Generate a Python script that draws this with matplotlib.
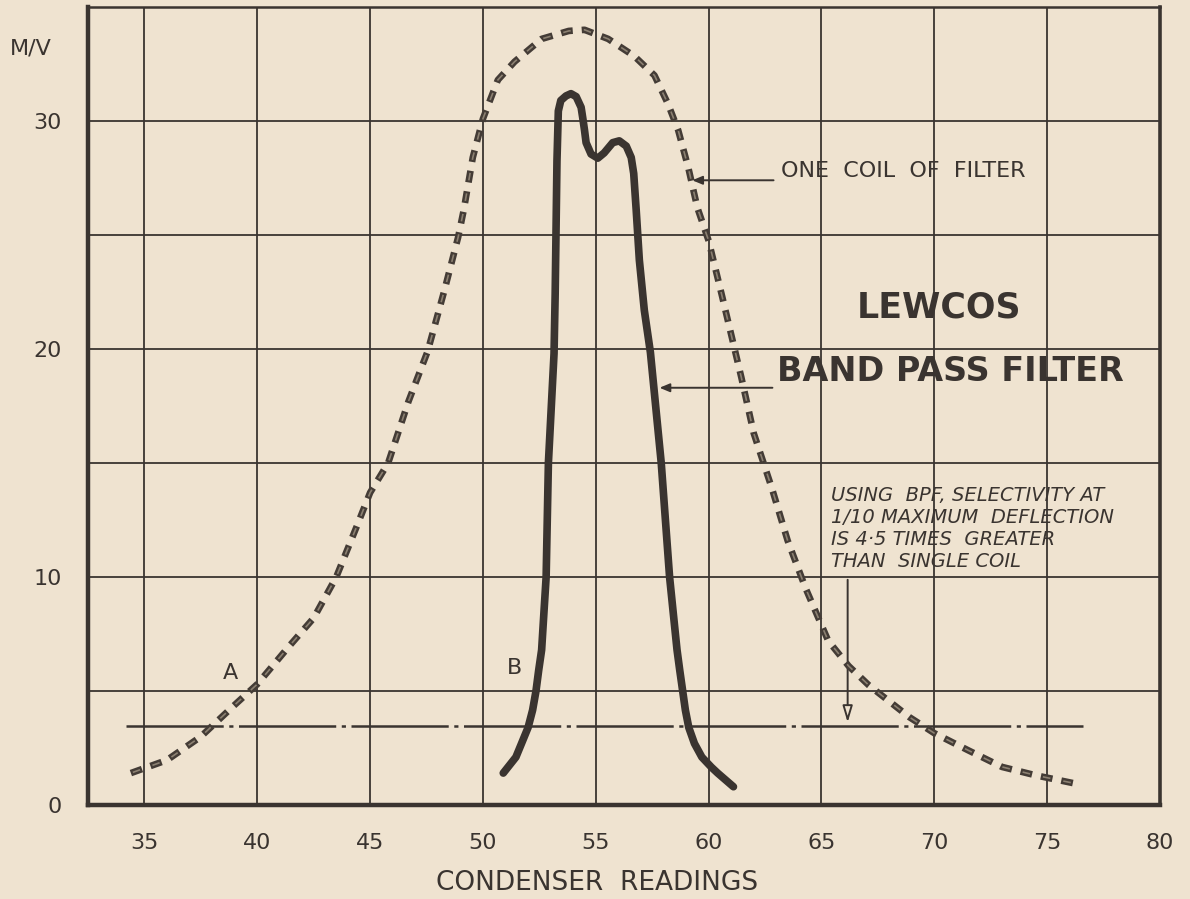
import matplotlib
matplotlib.use("Agg")
import matplotlib.pyplot as plt

plt.rcParams['font.family'] = ['DejaVu Sans']
plt.rcParams['lines.scale_dashes'] = False

# ---- data ----
coil_x = [34.4, 36.0, 37.5, 38.9, 40.0, 41.4, 42.5, 43.5, 44.4, 45.0, 45.8, 46.7,
          47.55, 48.3, 48.9, 49.15, 49.55, 50.0, 50.66, 51.4, 52.6, 53.8, 54.5,
          55.55, 56.7, 57.6, 58.2, 58.65, 59.1, 59.5, 60.0, 60.6, 61.45, 62.0,
          62.8, 63.5, 64.3, 65.3, 66.2, 67.1, 68.9, 70.0, 71.5, 73.0, 74.5, 76.2]
coil_y = [1.4, 1.97, 3.0, 4.3, 5.3, 6.95, 8.2, 10.0, 12.2, 13.7, 15.0, 17.7,
          19.9, 22.6, 24.9, 26.1, 28.4, 30.1, 31.8, 32.6, 33.6, 33.95, 34.0,
          33.6, 32.85, 32.0, 30.75, 29.6, 27.95, 26.2, 24.75, 22.3, 18.75, 16.3,
          13.9, 11.6, 9.5, 7.2, 6.1, 5.25, 3.85, 3.15, 2.4, 1.67, 1.3, 0.95]

bpf_x = [50.9, 51.46, 51.71, 52.0, 52.2, 52.35, 52.47, 52.6, 52.69, 52.8, 52.9,
         53.15, 53.2, 53.24, 53.28, 53.34, 53.45, 53.68, 53.9, 54.13, 54.35,
         54.42, 54.5, 54.57, 54.79, 55.09, 55.37, 55.75, 56.04, 56.35, 56.57,
         56.68, 56.79, 56.93, 57.15, 57.42, 57.9, 58.27, 58.45, 58.6, 58.72,
         58.85, 58.97, 59.12, 59.37, 59.7, 60.12, 60.4, 61.1]
bpf_y = [1.4, 2.1, 2.7, 3.4, 4.16, 5.0, 5.91, 6.8, 8.25, 10.0, 15.0,
         19.8, 22.4, 25.3, 28.25, 30.44, 30.9, 31.1, 31.2, 31.07, 30.6,
         30.15, 29.6, 29.05, 28.55, 28.37, 28.6, 29.05, 29.13, 28.9, 28.4,
         27.7, 26.1, 23.9, 21.7, 19.85, 15.0, 10.0, 8.25, 6.8, 5.91,
         5.0, 4.16, 3.4, 2.7, 2.1, 1.66, 1.4, 0.8]

level_x = [34.2, 76.6]
level_y = [3.47, 3.47]

x_ticks = [35, 40, 45, 50, 55, 60, 65, 70, 75, 80]
y_ticks = [0, 5, 10, 15, 20, 25, 30, 35]
y_tick_labels = ['0', '', '10', '', '20', '', '30', '']

bg = '#efe3d0'
ink = '#3a3430'

fig = plt.figure(figsize=(11.9, 8.99), dpi=100, facecolor=bg)
ax = fig.add_axes([88/1190, 1-805/899, (1160-88)/1190, (805-7)/899])
ax.set_facecolor(bg)
ax.set_xlim(32.5, 80)
ax.set_ylim(0, 35)

ax.set_xticks(x_ticks)
ax.set_xticklabels([str(v) for v in x_ticks])
ax.set_yticks(y_ticks)
ax.set_yticklabels(y_tick_labels)
ax.tick_params(axis='both', length=0, labelsize=16, labelcolor=ink)
ax.tick_params(axis='x', pad=20)
ax.tick_params(axis='y', pad=19)
ax.grid(True, color=ink, lw=1.3)
ax.set_axisbelow(True)
for side, lw in [('left', 3.2), ('bottom', 3.2), ('top', 1.8), ('right', 2.6)]:
    ax.spines[side].set_linewidth(lw)
    ax.spines[side].set_color(ink)

# 1/10 level line (dash-dot)
ax.plot(level_x, level_y, color=ink, lw=1.8, linestyle=(0, (70, 4, 3, 4)), zorder=3)

# one coil of filter: dashed (hollow-looking dashes)
ax.plot(coil_x, coil_y, color='#443c36', lw=4.8, linestyle=(0, (8.5, 6.5)),
        dash_capstyle='butt', zorder=4)
ax.plot(coil_x, coil_y, color='#8c8172', lw=1.2, linestyle=(13.5, (5.5, 9.5)),
        dash_capstyle='butt', zorder=5)

# band pass filter: solid
ax.plot(bpf_x, bpf_y, color=ink, lw=5.5, solid_capstyle='round',
        solid_joinstyle='round', zorder=4)

# annotations
ax.annotate('', xy=(59.15, 27.4), xytext=(63.0, 27.4),
            arrowprops=dict(arrowstyle='-|>,head_length=0.6,head_width=0.25',
                            color=ink, lw=1.4))
ax.text(63.2, 27.35, 'ONE  COIL  OF  FILTER', fontsize=16, color=ink,
        ha='left', va='bottom')

ax.annotate('', xy=(57.7, 18.3), xytext=(62.95, 18.3),
            arrowprops=dict(arrowstyle='-|>,head_length=0.6,head_width=0.25',
                            color=ink, lw=1.4))
ax.text(70.2, 21.8, 'LEWCOS', fontsize=25, fontweight='bold', color=ink,
        ha='center', va='center')
ax.text(63.05, 18.3, 'BAND PASS FILTER', fontsize=24, fontweight='bold',
        color=ink, ha='left', va='bottom')

note = ("USING  BPF, SELECTIVITY AT\n1/10 MAXIMUM  DEFLECTION\n"
        "IS 4·5 TIMES  GREATER\nTHAN  SINGLE COIL")
ax.text(65.4, 14.0, note, fontsize=14, style='italic', color=ink,
        ha='left', va='top', linespacing=1.2)
ax.annotate('', xy=(66.16, 3.5), xytext=(66.16, 10.0),
            arrowprops=dict(arrowstyle='-|>,head_length=1.0,head_width=0.3',
                            fc=bg, ec=ink, lw=1.4))

ax.text(38.8, 5.8, 'A', fontsize=16, color=ink, ha='center', va='center')
ax.text(51.4, 6.0, 'B', fontsize=16, color=ink, ha='center', va='center')

fig.text(31/1190, 1-48/899, 'M/V', fontsize=16, color=ink, ha='center', va='center')
fig.text(597/1190, 1-883/899, 'CONDENSER  READINGS', fontsize=19, color=ink,
         ha='center', va='center')

fig.savefig('out.png', dpi=100, facecolor=bg)
